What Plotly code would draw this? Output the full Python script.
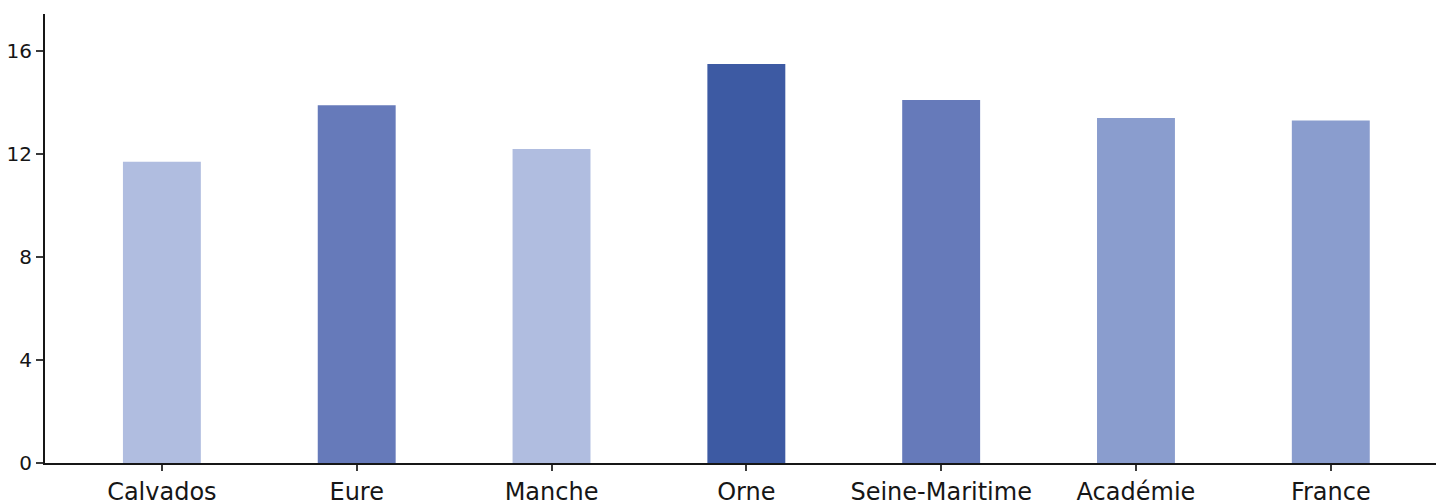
import plotly.graph_objects as go

categories = ['Calvados', 'Eure', 'Manche', 'Orne', 'Seine-Maritime', 'Académie', 'France']
values = [11.7, 13.9, 12.2, 15.5, 14.1, 13.4, 13.3]
colors = ['#B0BDE0', '#667ABA', '#B0BDE0', '#3D5AA3', '#667ABA', '#8A9DCE', '#8A9DCE']

fig = go.Figure()

fig.add_trace(go.Bar(
    x=categories,
    y=values,
    marker_color=colors,
    marker_line_width=0,
    width=0.4,
    hoverinfo='x+y'
))

fig.update_layout(
    width=1436,
    height=501,
    margin=dict(l=45, r=0, t=14, b=38),
    paper_bgcolor='white',
    plot_bgcolor='white',
    showlegend=False,
    font=dict(family='DejaVu Sans, sans-serif', color='#161616'),
    xaxis=dict(
        range=[-0.6, 6.54],
        automargin=False,
        showline=True,
        linecolor='#161616',
        linewidth=2,
        ticks='outside',
        ticklen=6,
        tickwidth=2,
        tickcolor='#3a3a3a',
        tickfont=dict(size=24),
        showgrid=False,
        zeroline=False
    ),
    yaxis=dict(
        range=[0, 17.44],
        automargin=False,
        tickvals=[0, 4, 8, 12, 16],
        showline=True,
        linecolor='#161616',
        linewidth=2,
        ticks='outside',
        ticklen=7,
        tickwidth=2,
        tickcolor='#3a3a3a',
        tickfont=dict(size=20),
        showgrid=False,
        zeroline=False
    )
)

# drop the default body margin so the figure fills the window exactly
fig.write_html("out.html", config={'displayModeBar': False},
               post_script="document.body.style.margin='0';")
